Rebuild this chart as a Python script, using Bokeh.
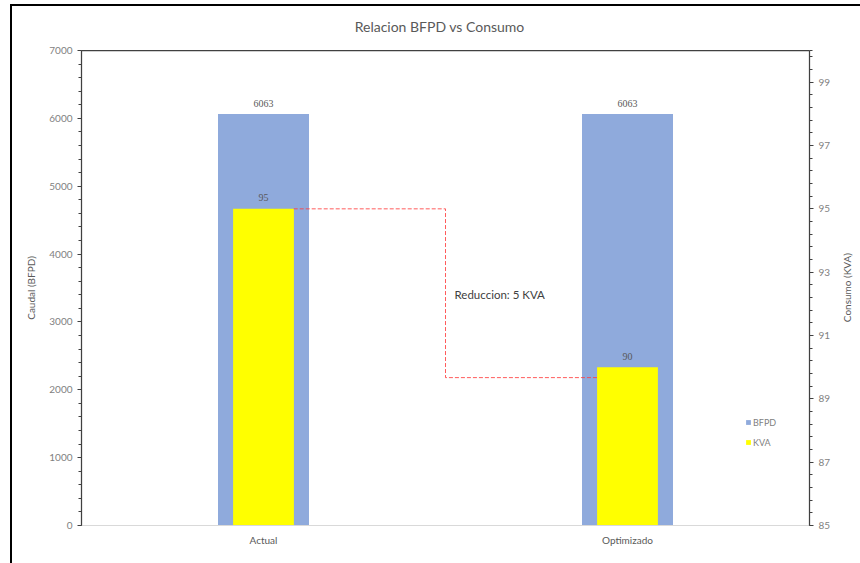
import math
from bokeh.plotting import figure
from bokeh.layouts import column, row
from bokeh.models import (FactorRange, Range1d, LinearAxis, FixedTicker, Div,
                          ColumnDataSource, LabelSet, Label, Legend, LegendItem)
from bokeh.embed import file_html
from bokeh.resources import INLINE

title_text = "Relacion BFPD vs Consumo"
left_label = "Caudal (BFPD)"
right_label = "Consumo (KVA)"
categories = ["Actual", "Optimizado"]
bfpd = [6063, 6063]
kva = [95, 90]
left_ticks = [0, 1000, 2000, 3000, 4000, 5000, 6000, 7000]
right_ticks = [85, 87, 89, 91, 93, 95, 97, 99]
right_minor = [round(85 + 0.4 * i, 1) for i in range(38)] + [100]
reduction_text = "Reduccion: 5 KVA"
# annotation path (x in category units, y in KVA)
path_x = [0.583, 1.0, 1.0, 1.417]
path_y = [95, 95, 89.67, 89.67]

FONT = "Lato"
BLUE = "#8FAADC"
YELLOW = "#FFFF00"

OX, OY = 12, 6      # page offset of the content inside the bordered container
TITLE_H = 30        # height of the title strip
FIG_TOP = OY + TITLE_H
FIG_RIGHT = 838     # page x where the figure ends; a narrow div holds the right-axis title

p = figure(width=FIG_RIGHT - OX, height=563 - FIG_TOP, x_range=FactorRange(*categories, range_padding=0),
           y_range=Range1d(0, 7000), output_backend="svg", toolbar_location=None,
           min_border_left=81 - OX, min_border_right=FIG_RIGHT - 809,
           min_border_top=50 - FIG_TOP, min_border_bottom=38)
p.extra_y_ranges = {"kva": Range1d(85, 100)}
p.grid.visible = False
p.outline_line_color = None
p.background_fill_color = "white"
p.border_fill_color = "white"

src = ColumnDataSource(dict(cat=categories, bfpd=bfpd, kva=kva,
                            bl=[str(v) for v in bfpd], kl=[str(v) for v in kva]))

r1 = p.vbar(x="cat", top="bfpd", bottom=0, width=0.25, source=src, fill_color=BLUE, line_color=None)
r2 = p.vbar(x="cat", top="kva", bottom=85, width=0.167, source=src, fill_color=YELLOW,
            line_color=None, y_range_name="kva")

p.line(path_x, path_y, y_range_name="kva", line_color="#FF4040", line_width=1,
       line_dash="4 2", line_alpha=0.85)

p.add_layout(LabelSet(x="cat", y="bfpd", text="bl", source=src, text_align="center",
                      text_baseline="middle", y_offset=11, text_font=FONT,
                      text_font_size="10px", text_color="#595959"))
p.add_layout(LabelSet(x="cat", y="kva", text="kl", source=src, text_align="center",
                      text_baseline="middle", y_offset=11, text_font=FONT,
                      text_font_size="10px", text_color="#595959", y_range_name="kva"))
p.add_layout(Label(x=1.0, y=92.3, x_offset=9, y_range_name="kva", text=reduction_text,
                   text_baseline="middle", text_font=FONT, text_font_size="11.5px",
                   text_color="#404040"))

# x axis
xa = p.xaxis[0]
xa.axis_line_color = "#d9d9d9"
xa.major_tick_line_color = None
xa.minor_tick_line_color = None
xa.major_tick_out = 0
xa.major_label_standoff = 8
xa.major_label_text_font = FONT
xa.major_label_text_font_size = "10px"
xa.major_label_text_color = "#595959"

def style_axis(ax, label):
    if label:
        ax.axis_label = label
    ax.axis_label_text_font = FONT
    ax.axis_label_text_font_size = "10px"
    ax.axis_label_text_font_style = "normal"
    ax.axis_label_text_color = "#595959"
    ax.axis_line_color = "#404040"
    ax.axis_line_width = 1.25
    ax.major_tick_line_color = "#404040"
    ax.minor_tick_line_color = "#404040"
    ax.major_tick_in = 0
    ax.major_tick_out = 4
    ax.minor_tick_in = 0
    ax.minor_tick_out = 3
    ax.major_label_standoff = 5
    ax.major_label_text_font = FONT
    ax.major_label_text_font_size = "10px"
    ax.major_label_text_color = "#7f7f7f"

ya = p.yaxis[0]
ya.ticker = FixedTicker(ticks=left_ticks, minor_ticks=list(range(0, 7001, 200)))
style_axis(ya, left_label)
ya.axis_label_standoff = 9

ra = LinearAxis(y_range_name="kva", ticker=FixedTicker(ticks=right_ticks, minor_ticks=right_minor))
style_axis(ra, None)
p.add_layout(ra, "right")

top = LinearAxis(ticker=FixedTicker(ticks=[], minor_ticks=[]), major_tick_line_color=None,
                 minor_tick_line_color=None, axis_line_color="#404040", axis_line_width=1.25,
                 major_tick_out=0, minor_tick_out=0, major_label_standoff=0)
p.add_layout(top, "above")

legend = Legend(items=[LegendItem(label="BFPD", renderers=[r1]), LegendItem(label="KVA", renderers=[r2])],
                location=(664, 77), glyph_width=6, glyph_height=6, label_height=12, spacing=8,
                label_standoff=2, padding=0, margin=0, border_line_color=None,
                background_fill_alpha=0, label_text_font=FONT, label_text_font_size="9px",
                label_text_color="#7f7f7f")
p.add_layout(legend)

# title strip
tw = 860 - OX
title_div = Div(
    text=(f'<div style="box-sizing:border-box;width:{tw}px;height:{TITLE_H}px;padding-top:12px;'
          'padding-left:7px;display:flex;align-items:center;justify-content:center;background:white;">'
          f'<span style="font-family:Lato;font-size:14px;color:#595959;white-space:nowrap;'
          f'line-height:16px;">{title_text}</span></div>'),
    width=tw, height=TITLE_H, margin=0)

# right-axis title strip
div_w = 860 - FIG_RIGHT
div_h = 563 - FIG_TOP
right_title = Div(
    text=(f'<div style="box-sizing:border-box;width:{div_w}px;height:{div_h}px;padding-bottom:24px;'
          'padding-left:3px;display:flex;align-items:center;justify-content:flex-start;background:white;">'
          '<span style="writing-mode:vertical-rl;transform:rotate(180deg);font-family:Lato;'
          f'font-size:10px;color:#595959;white-space:nowrap;line-height:12px;">{right_label}</span></div>'),
    width=div_w, height=div_h, margin=0)

root = column(title_div, row(p, right_title, spacing=0), spacing=0, margin=(4, 0, 0, 10),
              styles={"border-left": "2px solid black", "border-top": "2px solid black"})

open("out.html", "w").write(file_html(root, INLINE))
